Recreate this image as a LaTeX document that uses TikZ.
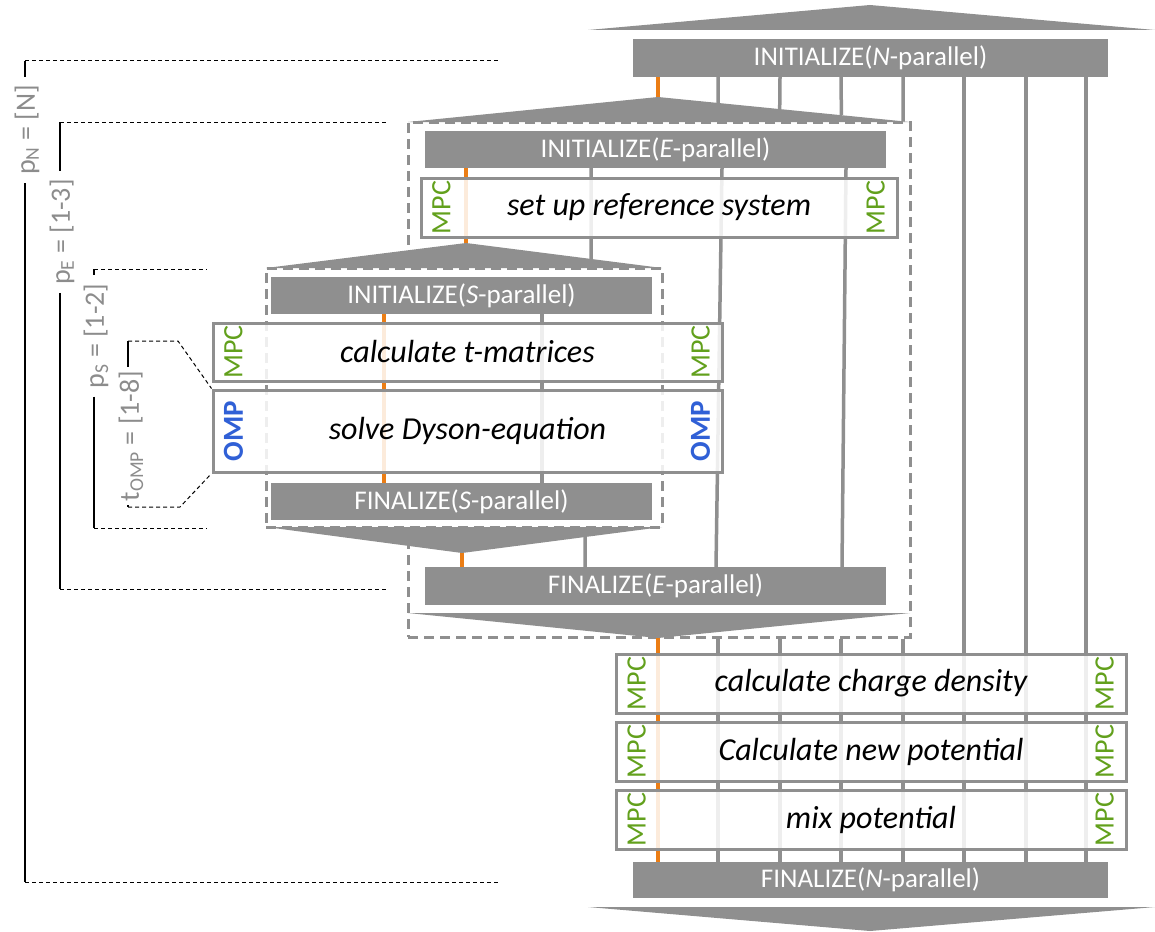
\documentclass[tikz,border=0pt]{standalone}
\usepackage{fontspec}
\setmainfont{Carlito}
\usetikzlibrary{calc}
\pgfdeclarelayer{background}
\pgfsetlayers{background,main}
\definecolor{boxgrey}{RGB}{143,143,143}
\definecolor{thread}{RGB}{235,125,20}
\definecolor{mpcgreen}{RGB}{98,160,28}
\definecolor{ompblue}{RGB}{48,96,214}
\definecolor{labelgrey}{RGB}{140,140,140}
\begin{document}
\begin{tikzpicture}[x=1pt,y=-1pt,
  phase/.style={fill=boxgrey, text=white, inner sep=0pt, font=\fontsize{27}{31}\selectfont},
  task/.style={draw=boxgrey, line width=3pt, fill=white, fill opacity=0.85, text opacity=1,
    inner sep=0pt, font=\fontsize{32}{36}\selectfont\itshape},
  mpc/.style={text=mpcgreen, rotate=90, inner sep=0pt, font=\fontsize{28}{32}\selectfont},
  omp/.style={text=ompblue, rotate=90, inner sep=0pt, font=\fontsize{29}{33}\selectfont\bfseries},
  proc/.style={draw=boxgrey, line width=3.5pt},
  master/.style={draw=thread, line width=3.5pt},
  frame/.style={draw=boxgrey, line width=3pt, dash pattern=on 10pt off 6pt, inner sep=0pt},
  fan/.style={fill=boxgrey},
  guide/.style={draw=black, line width=1pt, dash pattern=on 4pt off 3pt},
  span/.style={draw=black, line width=2pt},
  level/.style={text=labelgrey, rotate=90, inner xsep=8pt, inner ysep=0pt, font=\fontsize{28}{32}\selectfont}
]
\useasboundingbox (0,0) rectangle (1155,931);

% ---------------- phase bars ----------------
\node[phase, minimum width=475pt, minimum height=38pt] (ninit) at (870.5,58) {INITIALIZE(\textit{N}-parallel)};
\node[phase, minimum width=461pt, minimum height=37pt] (einit) at (655.5,149.5) {INITIALIZE(\textit{E}-parallel)};
\node[phase, minimum width=381pt, minimum height=37pt] (sinit) at (461.5,295.5) {INITIALIZE(\textit{S}-parallel)};
\node[phase, minimum width=381pt, minimum height=37pt] (sfin) at (461.5,501.5) {FINALIZE(\textit{S}-parallel)};
\node[phase, minimum width=461pt, minimum height=38pt] (efin) at (655.5,586) {FINALIZE(\textit{E}-parallel)};
\node[phase, minimum width=475pt, minimum height=36pt] (nfin) at (870.5,880) {FINALIZE(\textit{N}-parallel)};

% ---------------- work steps ----------------
\node[task, minimum width=476pt, minimum height=59pt] (setup) at (659,207.5) {set up reference system};
\node[task, minimum width=509pt, minimum height=58pt] (tmat) at (467.5,352) {calculate t-matrices};
\node[task, minimum width=509pt, minimum height=82pt] (dyson) at (467.5,431) {solve Dyson-equation};
\node[task, minimum width=510pt, minimum height=59pt] (charge) at (871,683.5) {calculate charge density};
\node[task, minimum width=510pt, minimum height=59pt] (newpot) at (871,751.5) {Calculate new potential};
\node[task, minimum width=510pt, minimum height=59pt] (mix) at (871,819.5) {mix potential};

\foreach \b in {setup,tmat,charge,newpot,mix}{
  \node[mpc] (\b-l) at ($(\b.west)+(22,0)$) {MPC};
  \node[mpc] (\b-r) at ($(\b.east)+(-23,0)$) {MPC};
}
\node[omp] (dyson-l) at ($(dyson.west)+(22,0)$) {OMP};
\node[omp] (dyson-r) at ($(dyson.east)+(-23,0)$) {OMP};

% ---------------- fan-out / fan-in wedges ----------------
\coordinate (ntip) at (870,5);
\coordinate (etip) at (658,97);   \coordinate (eleft) at (408,122); \coordinate (eright) at (910,122);
\coordinate (stip) at (466,243);  \coordinate (sleft) at (266,268); \coordinate (sright) at (662,268);
\coordinate (sfl) at (266,527);   \coordinate (sfr) at (662,527);   \coordinate (sbot) at (462,553);
\coordinate (efl) at (408,613);   \coordinate (efr) at (910,613);   \coordinate (ebot) at (658,638);
\coordinate (nbot) at (870,931);
\fill[fan] (588,30) -- (ntip) -- (1155,30) -- cycle;
\fill[fan] (eleft) -- (etip) -- (eright) -- cycle;
\fill[fan] (sleft) -- (stip) -- (sright) -- cycle;
\fill[fan] (sfl) -- (sbot) -- (sfr) -- cycle;
\fill[fan] (efl) -- (ebot) -- (efr) -- cycle;
\fill[fan] (588,907) -- (nbot) -- (1155,907) -- cycle;

% ---------------- thread positions ----------------
\foreach \x [count=\i from 0] in {658,718,780,841,903,964,1026,1086}
  \coordinate (n\i) at (\x,0);
\coordinate (e1t) at (591,0); \coordinate (e1b) at (585,0);
\coordinate (e2t) at (722,0); \coordinate (e2b) at (716,0);
\coordinate (e3t) at (846,0); \coordinate (e3b) at (842,0);
\coordinate (s0) at (384,0);  \coordinate (s1) at (542,0);

\begin{pgfonlayer}{background}
  % parallel regions
  \node[frame, minimum width=502pt, minimum height=515pt] (eframe) at (659,379.5) {};
  \node[frame, fill=white, minimum width=396pt, minimum height=259pt] (sframe) at (464,397.5) {};
  % N-parallel threads
  \draw[master] (ninit.south -| n0) -- (etip);
  \foreach \i in {1,...,4}
    \draw[proc] (ninit.south -| n\i) -- ($(etip)!{((\i-1)*61.7+60)/252}!(eright)$);
  \foreach \i in {5,6,7}
    \draw[proc] (ninit.south -| n\i) -- (nfin.north -| n\i);
  \draw[master] (ebot) -- (nfin.north -| n0);
  \foreach \i in {1,...,4}
    \draw[proc] (eframe.south -| n\i) -- (nfin.north -| n\i);
  % E-parallel threads
  \draw[master] (einit.south -| stip) -- (stip);
  \draw[proc] (einit.south -| e1t) -- ($(stip)!{125/196}!(sright)$);
  \draw[master] (sbot) -- (efin.north -| sbot);
  \draw[proc] ($(sbot)!{123/200}!(sfr)$) -- (efin.north -| e1b);
  \draw[proc] (einit.south -| e2t) -- (efin.north -| e2b);
  \draw[proc] (einit.south -| e3t) -- (efin.north -| e3b);
  % S-parallel threads
  \draw[master] (sinit.south -| s0) -- (sfin.north -| s0);
  \draw[proc] (sinit.south -| s1) -- (sfin.north -| s1);
\end{pgfonlayer}

% ---------------- level brackets ----------------
\node[level] (pn) at (27,130) {p\textsubscript{N} = [N]};
\node[level] (pe) at (62,232) {p\textsubscript{E} = [1-3]};
\node[level] (ps) at (96,336) {p\textsubscript{S} = [1-2]};
\node[level, inner xsep=4pt] (pt) at (131,436) {t\textsubscript{OMP} = [1-8]};

\coordinate (pntop) at (25,61);  \coordinate (pnbot) at (25,882);
\coordinate (petop) at (60,122); \coordinate (pebot) at (60,589);
\coordinate (pstop) at (94,269); \coordinate (psbot) at (94,528);
\coordinate (pttop) at (128,341); \coordinate (ptbot) at (128,507);

\draw[guide] (pntop) -- (500,61);
\draw[span] (pntop) -- (pntop |- pn.east);
\draw[span] (pn.west -| pnbot) -- (pnbot);
\draw[guide] (pnbot) -- (500,882);

\draw[guide] (petop) -- (388,122);
\draw[span] (petop) -- (petop |- pe.east);
\draw[span] (pe.west -| pebot) -- (pebot);
\draw[guide] (pebot) -- (388,589);

\draw[guide] (pstop) -- (207,269);
\draw[span] (pstop) -- (94,275);
\draw[span] (ps.west -| psbot) -- (psbot);
\draw[guide] (psbot) -- (207,528);

\draw[guide] (pttop) -- (178,341) -- (dyson.north west);
\draw[span] (pttop) -- (pttop |- pt.east);
\draw[span] (pt.west -| ptbot) -- (ptbot);
\draw[guide] (ptbot) -- (180,507) -- (dyson.south west);
\end{tikzpicture}
\end{document}
